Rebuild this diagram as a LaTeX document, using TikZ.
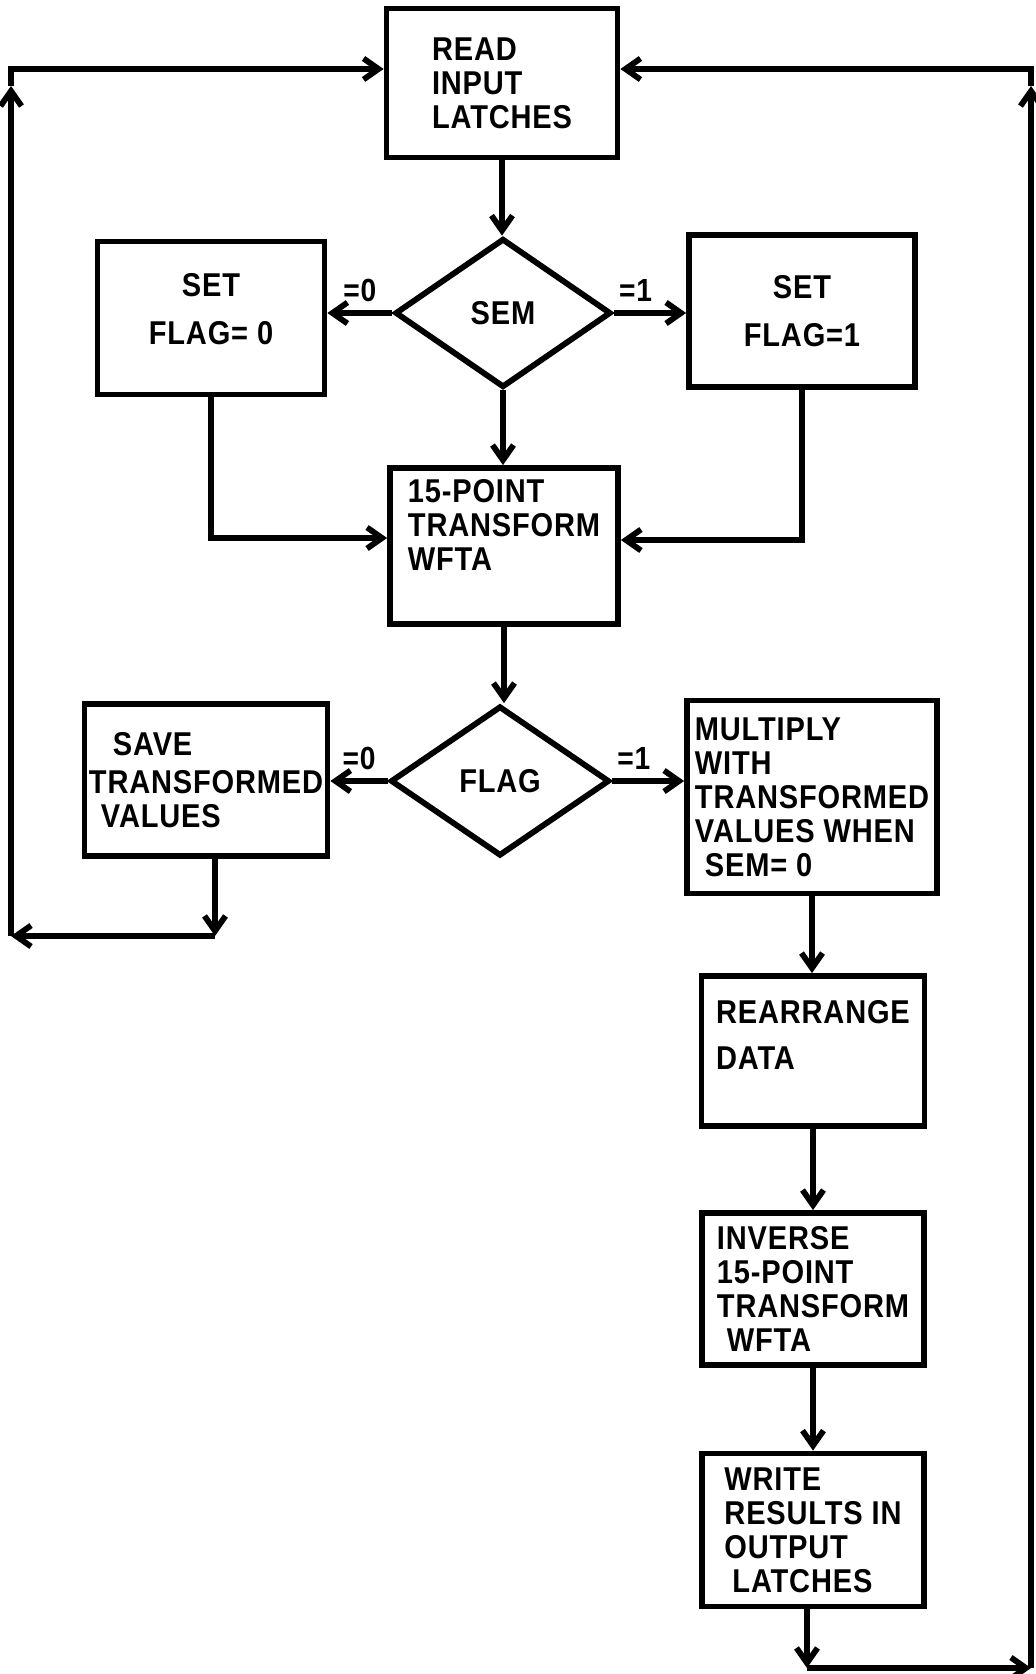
\documentclass[tikz,border=0pt]{standalone}
\usepackage{fontspec}
\setmainfont{Liberation Sans}[FakeStretch=0.88,LetterSpace=2.5]
\usetikzlibrary{arrows.meta,positioning,shapes.geometric}
\newcommand{\lowpad}[1]{\rule[-#1]{0pt}{#1}}

\begin{document}
\begin{tikzpicture}[
  x=0.5pt, y=-0.5pt,
  line width=2.9pt,
  box/.style 2 args={draw, rectangle, inner sep=0pt, align=left,
              minimum width=#1, minimum height=#2,
              font=\bfseries\fontsize{16.5}{17}\selectfont},
  dec/.style={draw, diamond, inner sep=0pt, minimum width=108pt, minimum height=74.5pt,
              font=\bfseries\fontsize{16.5}{17}\selectfont},
  lbl/.style={font=\bfseries\fontsize{16}{16}\selectfont, above=1pt},
  ar/.style={-{Straight Barb[length=7.5pt,width=10.5pt]}},
]
\useasboundingbox (0,0) rectangle (1036,1674);

% main column
\node[box={115.5pt}{74.5pt}] (read) at (502,83) {READ\\INPUT\\LATCHES};
\node[dec] (sem) at (503,313) {SEM};
\node[box={113.5pt}{76.5pt}, align=center] (setf0) at (211,318) {SET\\[7pt]FLAG= 0\lowpad{9pt}};
\node[box={113pt}{76pt}, align=center] (setf1) at (802,311) {SET\\[7pt]FLAG=1};
\node[box={114pt}{78pt}] (transform) at (504,546) {15-POINT\\TRANSFORM\\WFTA\lowpad{21pt}};
\node[dec, minimum width=109.5pt, minimum height=75pt] (flag) at (500,781) {FLAG};
\node[box={121.5pt}{76pt}] (save) at (206,780) {\hspace{12pt}SAVE\\[2pt]TRANSFORMED\\\hspace{6pt}VALUES};

% right column
\node[box={125pt}{96.5pt}] (mult) at (812,797) {MULTIPLY\\WITH\\TRANSFORMED\\VALUES WHEN\\\hspace{5pt}SEM= 0};
\node[box={111.5pt}{75pt}] (rearr) at (813,1051) {REARRANGE\\[6pt]DATA\lowpad{16pt}};
\node[box={111pt}{76pt}] (inverse) at (813,1289) {INVERSE\\15-POINT\\TRANSFORM\\\hspace{5pt}WFTA};
\node[box={111pt}{76.5pt}] (write) at (813,1530) {WRITE\\RESULTS IN\\OUTPUT\\\hspace{4pt}LATCHES};

% loop corners
\coordinate (ll) at (11,936);
\coordinate (lt) at (11,86);
\coordinate (rl) at (1031,1668);
\coordinate (rt) at (1031,86);

\draw[ar] (read.south) -- (read.south |- sem.north);
\draw[ar] (sem.west) -- node[lbl]{=0} (sem.west -| setf0.east);
\draw[ar] (sem.east) -- node[lbl, pos=0.3]{=1} (sem.east -| setf1.west);
\draw[ar] (sem.south) -- (sem.south |- transform.north);
\draw[ar] (setf0.south) |- ([yshift=4pt]transform.west);
\draw[ar] (setf1.south) |- ([yshift=3pt]transform.east);
\draw[ar] (transform.south) -- (transform.south |- flag.north);
\draw[ar] (flag.west) -- node[lbl]{=0} (flag.west -| save.east);
\draw[ar] (flag.east) -- node[lbl, pos=0.3]{=1} (flag.east -| mult.west);
\draw[ar] (mult.south) -- (mult.south |- rearr.north);
\draw[ar] (rearr.south) -- (rearr.south |- inverse.north);
\draw[ar] (inverse.south) -- (inverse.south |- write.north);

% back to the input latches
\draw[ar] ([xshift=4.5pt]save.south) -- ([xshift=4.5pt]save.south |- ll);
\draw[ar] ([xshift=4.5pt]save.south |- ll) -- (ll);
\draw[ar] (ll) -- (lt);
\draw[ar] (lt) |- ([yshift=7pt]read.west);
\draw[ar] ([xshift=-3pt]write.south) -- ([xshift=-3pt]write.south |- rl);
\draw[ar] ([xshift=-3pt]write.south |- rl) -- (rl);
\draw[ar] (rl) -- (rt);
\draw[ar] (rt) |- ([yshift=7pt]read.east);
\end{tikzpicture}
\end{document}
